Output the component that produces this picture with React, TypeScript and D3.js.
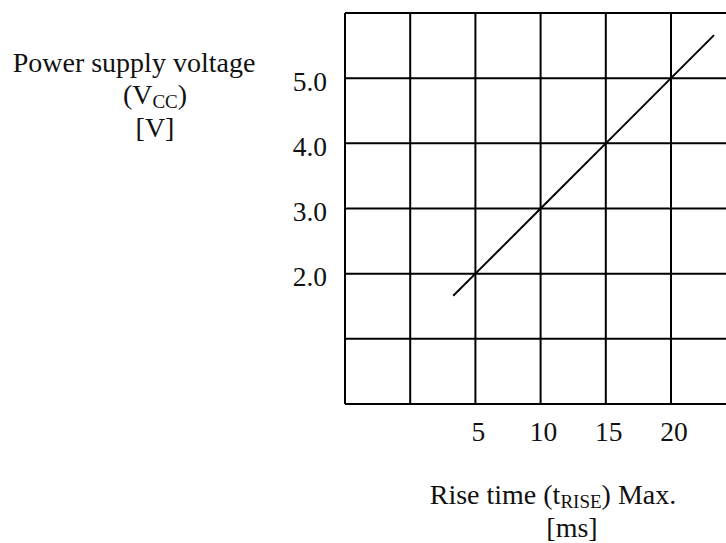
import React from "react";
import * as d3 from "d3";

const xTickValues = [5, 10, 15, 20];
const xGridValues = [-5, 0, 5, 10, 15, 20, 25];
const yTickValues = [2, 3, 4, 5];
const yGridValues = [0, 1, 2, 3, 4, 5, 6];
const riseTimeMs = [3.3, 5, 10, 15, 20, 23.3];
const supplyVoltage = [1.66, 2, 3, 4, 5, 5.66];

const W = 726;
const H = 543;
const FONT = "'Liberation Serif', 'Times New Roman', serif";
const FS = 28;
const TICK_FS = 27.5;
const SUB_FS = 19;

export default function App() {
  const x = d3.scaleLinear().domain([-5, 20]).range([345, 671]);
  const y = d3.scaleLinear().domain([0, 6]).range([404, 13]);
  const line = d3
    .line<number>()
    .x((_, i) => x(riseTimeMs[i]))
    .y((d) => y(d));
  const left = x(-5);
  const right = x(25);
  return (
    <svg
      width={W}
      height={H}
      style={{ position: "absolute", left: 0, top: 0, background: "#fff" }}
      fontFamily={FONT}
    >
      <g stroke="#000" strokeWidth={2} fill="none">
        {yGridValues.map((v) => (
          <line key={"h" + v} x1={left} x2={right} y1={y(v)} y2={y(v)} />
        ))}
        {xGridValues.map((v) => (
          <line key={"v" + v} x1={x(v)} x2={x(v)} y1={y(0)} y2={y(6)} />
        ))}
      </g>
      <path d={line(supplyVoltage) || ""} stroke="#000" strokeWidth={2} fill="none" />
      <g fill="#111">
        {yTickValues.map((v) => (
          <text key={"yt" + v} x={327} y={y(v) + 3} fontSize={TICK_FS} textAnchor="end" dominantBaseline="central">
            {v.toFixed(1)}
          </text>
        ))}
        {xTickValues.map((v) => (
          <text key={"xt" + v} x={x(v) + 3} y={441} fontSize={TICK_FS} textAnchor="middle">
            {v}
          </text>
        ))}
        <g fontSize={FS}>
          <text x={134} y={72} textAnchor="middle">Power supply voltage</text>
          <text x={155} y={104} textAnchor="middle">
            (V<tspan fontSize={SUB_FS} dy={4}>CC</tspan><tspan dy={-4}>)</tspan>
          </text>
          <text x={155} y={137} textAnchor="middle">[V]</text>
          <text x={553} y={504} textAnchor="middle">
            Rise time (t<tspan fontSize={SUB_FS} dy={4}>RISE</tspan><tspan dy={-4}>) Max.</tspan>
          </text>
          <text x={572} y={537} textAnchor="middle">[ms]</text>
        </g>
      </g>
    </svg>
  );
}
